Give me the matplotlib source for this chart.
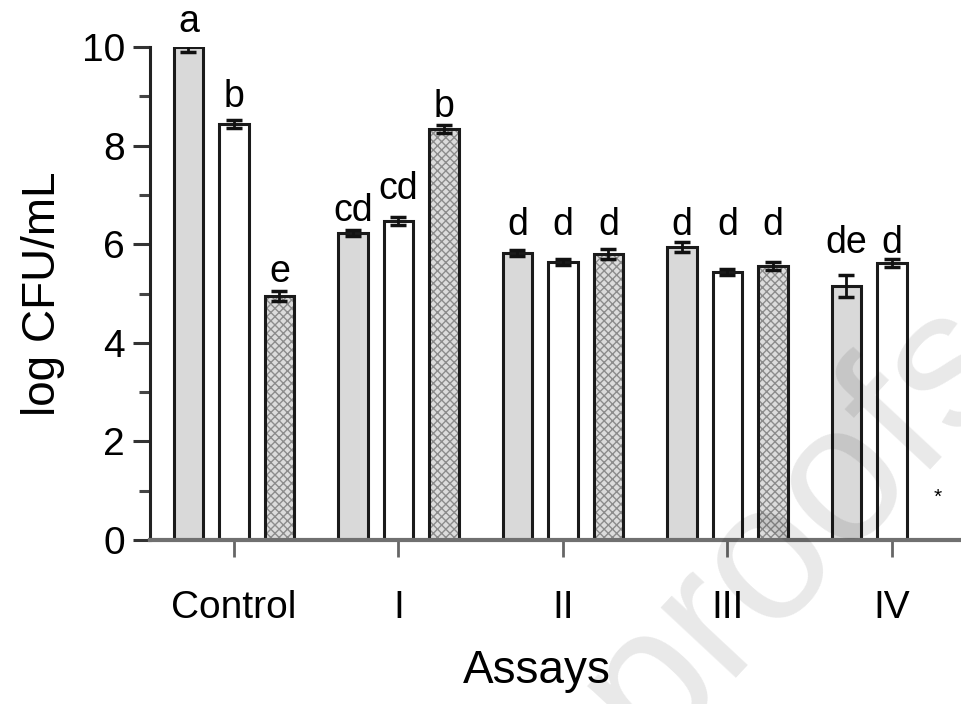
import numpy as np
import matplotlib.pyplot as plt

plt.rcParams['font.family'] = ['Liberation Sans', 'DejaVu Sans']

# data
groups = ['Control', 'I', 'II', 'III', 'IV']
grey_vals = [10.0, 6.23, 5.82, 5.94, 5.15]
grey_err = [0.10, 0.06, 0.06, 0.10, 0.22]
white_vals = [8.44, 6.47, 5.64, 5.44, 5.62]
white_err = [0.08, 0.08, 0.06, 0.06, 0.08]
dot_vals = [4.95, 8.34, 5.80, 5.56]          # IV has no third bar
dot_err = [0.10, 0.08, 0.10, 0.08]

# significance letters and the height of their baseline
grey_lbl = ['a', 'cd', 'd', 'd', 'de']
grey_lbl_y = [10.30, 6.47, 6.18, 6.18, 5.82]
white_lbl = ['b', 'cd', 'd', 'd', 'd']
white_lbl_y = [8.78, 6.92, 6.18, 6.18, 5.82]
dot_lbl = ['e', 'b', 'd', 'd']
dot_lbl_y = [5.23, 8.58, 6.18, 6.18]

x = np.arange(len(groups))
step = 0.277
w = 0.18
edge = '#1a1a1a'

fig = plt.figure(figsize=(9.61, 7.04), dpi=100)
ax = fig.add_axes([150 / 961, 1 - 540 / 704, 1 - 150 / 961, (540 - 47) / 704])

# grey bars
ax.bar(x - step, grey_vals, w, color='#d9d9d9', edgecolor=edge, linewidth=2.2, zorder=2)
# white bars
ax.bar(x, white_vals, w, color='white', edgecolor=edge, linewidth=2.2, zorder=2)
# dotted bars: hatch first, outline on top
xd = x[:len(dot_vals)] + step
ax.bar(xd, dot_vals, w, color='#dcdcdc', edgecolor='#8c8c8c', hatch='xxxx', linewidth=0, zorder=2)
ax.bar(xd, dot_vals, w, fill=False, edgecolor=edge, linewidth=2.2, zorder=3)

ekw = dict(fmt='none', ecolor='#111111', elinewidth=2, capsize=6, capthick=2.5, zorder=4)
ax.errorbar(x - step, grey_vals, yerr=grey_err, **ekw)
ax.errorbar(x, white_vals, yerr=white_err, **ekw)
ax.errorbar(xd, dot_vals, yerr=dot_err, **ekw)

tkw = dict(ha='center', va='baseline', fontsize=27, clip_on=False)
for xi, yl, t in zip(x - step, grey_lbl_y, grey_lbl):
    ax.text(xi, yl, t, **tkw)
for xi, yl, t in zip(x, white_lbl_y, white_lbl):
    ax.text(xi, yl, t, **tkw)
for xi, yl, t in zip(xd, dot_lbl_y, dot_lbl):
    ax.text(xi, yl, t, **tkw)
ax.text(x[-1] + step, 0.87, '*', ha='center', va='center', fontsize=15)

ax.set_xlim(-0.51, 4.42)
ax.set_ylim(0, 10)
ax.set_yticks(np.arange(0, 11, 2))
ax.set_yticks(np.arange(1, 10, 2), minor=True)
ax.set_xticks(x)
ax.set_xticklabels(groups)

for s in ['top', 'right']:
    ax.spines[s].set_visible(False)
ax.spines['left'].set_color('#222222')
ax.spines['left'].set_linewidth(2.2)
ax.spines['bottom'].set_color('#707070')
ax.spines['bottom'].set_linewidth(3)
ax.spines['bottom'].set_zorder(5)

ax.tick_params(axis='y', which='major', length=12, width=2.2, color='#333333',
               labelsize=28, pad=6)
ax.tick_params(axis='y', which='minor', length=8, width=2.2, color='#444444')
ax.tick_params(axis='x', length=12, width=2, color='#666666', labelsize=28, pad=24)

ax.set_ylabel('log CFU/mL', fontsize=33, labelpad=12)
ax.set_xlabel('Assays', fontsize=33)
ax.xaxis.set_label_coords(0.477, -0.222)

# faint watermark
fig.text(0.83, 0.255, 'proofs', fontsize=140, color='black', alpha=0.09,
         rotation=47, ha='center', va='center', rotation_mode='anchor', zorder=10)

fig.savefig('out.png', dpi=100)
